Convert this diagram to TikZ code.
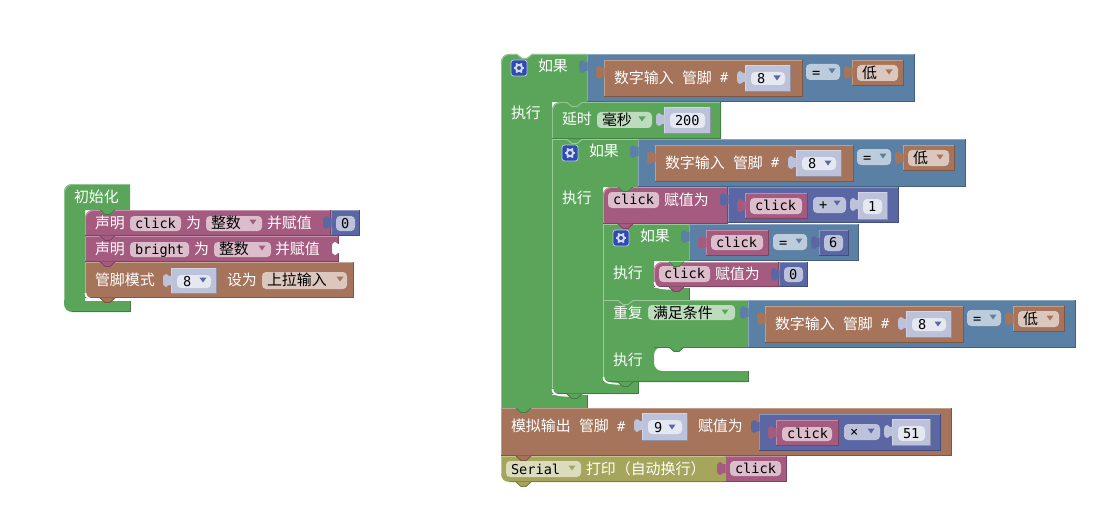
\documentclass[tikz,border=0pt]{standalone}
\usepackage{fontspec}
\setmainfont{Noto Sans CJK SC}
\newfontfamily\monof{DejaVu Sans Mono}[Scale=1]
\definecolor{gr}{HTML}{5BA55B}
\definecolor{lb}{HTML}{5B80A5}
\definecolor{bw}{HTML}{A5745B}
\definecolor{mg}{HTML}{A55B80}
\definecolor{ig}{HTML}{5B67A5}
\definecolor{ol}{HTML}{A5A55B}
\definecolor{fgr}{HTML}{BDDBBD}
\definecolor{flb}{HTML}{BDCCDB}
\definecolor{fbw}{HTML}{DBC7BD}
\definecolor{fmg}{HTML}{DBBDCC}
\definecolor{fig}{HTML}{BDC2DB}
\definecolor{fol}{HTML}{DBDBBD}
\definecolor{inn}{HTML}{E5E7F1}
\definecolor{gearblue}{HTML}{2C4BB6}
\newcount\tcnt
\tikzset{
  lbl/.style={anchor=base west,inner sep=0pt,outer sep=0pt,yshift=-3.9pt,font=\fontsize{11.2pt}{13pt}\selectfont},
  mono/.style={anchor=base west,inner sep=0pt,outer sep=0pt,yshift=-3.6pt,font=\monof\fontsize{10.2pt}{12pt}\selectfont,text=black},
  hi/.style={line width=.7pt},
  lo/.style={line width=.7pt}
}
% plain value block
\newcommand{\blk}[5]{%
  \fill[#1] (#2,#3) rectangle (#4,#5);
  \draw[hi,#1!70!white] (#2+.5,#5) -- (#2+.5,#3+.5) -- (#4,#3+.5);
  \draw[lo,#1!75!black] (#4-.5,#3) -- (#4-.5,#5-.5) -- (#2,#5-.5);}
% statement block, with notch in the highlight
\newcommand{\sblk}[5]{%
  \fill[#1] (#2,#3) rectangle (#4,#5);
  \draw[hi,#1!65!white] (#2+.5,#5) -- (#2+.5,#3+.5) -- (#2+15,#3+.5) -- (#2+20,#3+4.5) -- (#2+25,#3+4.5) -- (#2+30,#3+.5) -- (#4,#3+.5);
  \draw[lo,#1!75!black] (#4-.5,#3) -- (#4-.5,#5-.5) -- (#2,#5-.5);}
% statement block with rounded top-left corner
\newcommand{\rblk}[5]{%
  \fill[#1,rounded corners=0pt] (#2,#3+8) [rounded corners=6pt] -- (#2,#3) [sharp corners] -- (#4,#3) -- (#4,#5) -- (#2,#5) -- cycle;
  \draw[hi,#1!65!white] (#2+.5,#5) -- (#2+.5,#3+8) [rounded corners=6pt] -- (#2+.5,#3+.5) [sharp corners] -- (#2+15,#3+.5) -- (#2+20,#3+4.5) -- (#2+25,#3+4.5) -- (#2+30,#3+.5) -- (#4,#3+.5);
  \draw[lo,#1!75!black] (#4-.5,#3) -- (#4-.5,#5-.5) -- (#2,#5-.5);}
\newcommand{\vtab}[3]{%
  \fill[#3] (#1+.5,#2+3) -- (#1-2,#2+3) .. controls (#1-3,#2+3) and (#1-3,#2+1) .. (#1-5,#2+1) .. controls (#1-7.5,#2+1) and (#1-8,#2+3) .. (#1-8,#2+7.5) .. controls (#1-8,#2+12) and (#1-7.5,#2+14) .. (#1-5,#2+14) .. controls (#1-3,#2+14) and (#1-3,#2+12) .. (#1-2,#2+12) -- (#1+.5,#2+12) -- cycle;}
\newcommand{\stab}[3]{%
  \fill[#3] (#1+15,#2-.5) -- (#1+20,#2+4.5) -- (#1+25,#2+4.5) -- (#1+30,#2-.5) -- cycle;
  \draw[lo,#3!75!black] (#1+15,#2) -- (#1+20,#2+4.5) -- (#1+25,#2+4.5) -- (#1+30,#2);}
\newcommand{\fld}[5]{\fill[#1,rounded corners=3pt] (#2,#3) rectangle (#4,#5);}
\newcommand{\dd}[3]{\fill[#3] (#1-3.5,#2-2.5) -- (#1+3.5,#2-2.5) -- (#1,#2+2.5) -- cycle;}
\newcommand{\ctx}[3]{\global\advance\tcnt by 1 \node[lbl,text=white] (t\the\tcnt) at (#1,#2) {#3};}
\newcommand{\ktx}[3]{\global\advance\tcnt by 1 \node[lbl,text=black] (t\the\tcnt) at (#1,#2) {#3};}
\newcommand{\mtx}[3]{\global\advance\tcnt by 1 \node[mono] (t\the\tcnt) at (#1,#2) {#3};}
\newcommand{\mwt}[3]{\global\advance\tcnt by 1 \node[mono,text=white] (t\the\tcnt) at (#1,#2) {#3};}
\newcommand{\gearic}[2]{%
  \fill[fill=gearblue,draw=fig,line width=.6pt,rounded corners=2pt] (#1,#2) rectangle (#1+16,#2+16);
  \foreach \a in {0,60,...,300}{\draw[fig!60!white,line width=1.4pt] (#1+8,#2+8) -- ++(\a:5.4);}
  \fill[fig!60!white] (#1+8,#2+8) circle [radius=4.2];
  \fill[gearblue] (#1+8,#2+8) circle [radius=2];}
\newcommand{\wcurve}[2]{\draw[white,line width=1.3pt] (#1+.5,#2-6) .. controls (#1+.5,#2-1) and (#1+3,#2+.5) .. (#1+17,#2+.8);}
% boolean "digital input == low" row
\newcommand{\cmprow}{%
  \blk{lb}{587}{54}{915}{102}
  \vtab{587}{59}{lb}
  \blk{bw}{604}{60}{803}{97}
  \vtab{604}{65}{bw}
  \ctx{614}{78}{数字输入}
  \ctx{682}{78}{管脚}
  \mwt{720}{78}{\#}
  \blk{fig}{745}{65}{791}{92}
  \vtab{745}{70}{fig}
  \fld{inn}{751}{72}{785}{85}
  \mtx{757}{79}{8}
  \dd{777}{78}{ig}
  \fld{flb}{806}{64}{840}{80}
  \mtx{812}{73}{=}
  \dd{832}{71}{lb}
  \blk{bw}{852}{60}{904}{86}
  \vtab{852}{65}{bw}
  \fld{fbw}{857}{65}{898}{81}
  \ktx{862}{73}{低}
  \dd{889}{72}{bw}}
\begin{document}
\begin{tikzpicture}[x=0.75pt,y=-0.75pt]
\useasboundingbox (0,0) rectangle (1111,528);
\fill[white] (0,0) rectangle (1111,528);

%% ---------- setup block ----------
\fill[gr] (64,192) [rounded corners=6pt] -- (64,184) [sharp corners] -- (130,184) -- (130,210) -- (85,210) -- (85,301) -- (130,301) -- (130,312) [rounded corners=6pt] -- (64,312) [sharp corners] -- cycle;
\draw[lo,gr!75!black] (130,301) -- (130,311.5) -- (72,311.5);
\draw[hi,gr!65!white] (64.5,300) -- (64.5,192) [rounded corners=6pt] -- (64.5,184.5) [sharp corners] -- (130,184.5);
\ctx{74}{197}{初始化}

\rblk{mg}{85}{210}{331}{236}
\fld{fmg}{130}{216}{181}{231}
\ctx{95}{223}{声明}
\mtx{135}{224}{click}
\ctx{186}{223}{为}
\fld{fmg}{206}{216}{262}{231}
\ktx{211}{223}{整数}
\dd{253}{222}{mg}
\ctx{267}{223}{并赋值}
\blk{ig}{331}{210}{360}{236}
\vtab{331}{215}{ig}
\fld{fig}{336}{216}{355}{231}
\mtx{341}{224}{0}

\sblk{mg}{85}{236}{339}{262}
\fld{fmg}{130}{242}{189}{257}
\ctx{95}{249}{声明}
\mtx{135}{250}{bright}
\ctx{194}{249}{为}
\fld{fmg}{214}{242}{271}{257}
\ktx{219}{249}{整数}
\dd{262}{248}{mg}
\ctx{275}{249}{并赋值}
\vtab{340}{241}{white}

\sblk{bw}{85}{262}{353.5}{298}
\ctx{95}{280}{管脚模式}
\blk{fig}{171}{268}{217}{294}
\vtab{171}{273}{fig}
\fld{inn}{177}{275}{211}{288}
\mtx{183}{282}{8}
\dd{203}{280}{ig}
\ctx{227}{280}{设为}
\fld{fbw}{262}{272}{347}{289}
\ktx{267}{280}{上拉输入}
\dd{340}{279}{bw}
\wcurve{85}{299}

\stab{85}{210}{gr}
\stab{85}{236}{mg}
\stab{85}{262}{mg}
\stab{85}{298}{bw}

%% ---------- outer if ----------
\fill[gr] (501,62) [rounded corners=6pt] -- (501,54) [sharp corners] -- (517,54) -- (522,58) -- (527,58) -- (532,54) -- (587,54) -- (587,102) -- (552,102) -- (552,395) -- (587,395) -- (587,408) -- (501,408) -- cycle;
\draw[hi,gr!65!white] (501.5,408) -- (501.5,62) [rounded corners=6pt] -- (501.5,54.5) [sharp corners] -- (517,54.5) -- (522,58.5) -- (527,58.5) -- (532,54.5) -- (587,54.5);
\draw[lo,gr!75!black] (587,395) -- (587,407.5);
\gearic{511}{60}
\ctx{538}{66}{如果}
\ctx{511}{113}{执行}
\cmprow

%% delay
\rblk{gr}{552}{102}{721}{139}
\ctx{562}{119}{延时}
\fld{fgr}{597}{112}{652}{128}
\ktx{602}{120}{毫秒}
\dd{642}{119}{gr}
\blk{fig}{664}{107}{711}{134}
\vtab{664}{112}{fig}
\fld{inn}{670}{113}{705}{128}
\mtx{675}{121}{200}

%% second if
\fill[gr] (552,139) -- (638,139) -- (638,187) -- (603,187) -- (603,382) -- (638,382) -- (638,394) -- (552,394) -- cycle;
\draw[hi,gr!60!white] (552.5,388) -- (552.5,139.5) -- (567,139.5) -- (572,143.5) -- (577,143.5) -- (582,139.5) -- (638,139.5);
\draw[lo,gr!75!black] (638,382) -- (638,393.5) -- (552,393.5);
\gearic{562}{145}
\ctx{589}{151}{如果}
\ctx{562}{198}{执行}
\begin{scope}[shift={(51,85)}]\cmprow\end{scope}

%% click = click + 1
\rblk{mg}{603}{187}{728}{224}
\fld{fmg}{608}{192}{659}{208}
\mtx{613}{200}{click}
\ctx{664}{200}{赋值为}
\blk{ig}{728}{187}{899}{223}
\vtab{728}{192}{ig}
\blk{mg}{745}{193}{808}{219}
\vtab{745}{198}{mg}
\fld{fmg}{750}{198}{802}{214}
\mtx{755}{206}{click}
\fld{fig}{813}{197}{846}{213}
\mtx{819}{205}{+}
\dd{837}{203}{ig}
\blk{fig}{858}{192}{888}{220}
\vtab{858}{197}{fig}
\fld{inn}{863}{199}{882}{214}
\mtx{868}{207}{1}

%% third if
\fill[gr] (603,224) -- (689,224) -- (689,261) -- (654,261) -- (654,288) -- (689,288) -- (689,300) -- (603,300) -- cycle;
\draw[hi,gr!60!white] (603.5,300) -- (603.5,224.5) -- (689,224.5);
\draw[lo,gr!75!black] (689,288) -- (689,300);
\gearic{613}{230}
\ctx{640}{236}{如果}
\ctx{613}{273}{执行}
\blk{lb}{689}{224}{859}{261}
\vtab{689}{229}{lb}
\blk{mg}{706}{230}{769}{256}
\vtab{706}{235}{mg}
\fld{fmg}{711}{235}{763}{250}
\mtx{716}{243}{click}
\fld{flb}{773}{234}{807}{250}
\mtx{779}{243}{=}
\dd{799}{241}{lb}
\blk{ig}{819}{230}{849}{256}
\vtab{819}{235}{ig}
\fld{fig}{824}{235}{843}{251}
\mtx{829}{243}{6}

%% click = 0
\rblk{mg}{654}{262}{779}{287}
\fld{fmg}{659}{266}{710}{282}
\mtx{664}{274}{click}
\ctx{715}{274}{赋值为}
\blk{ig}{779}{262}{808}{287}
\vtab{779}{267}{ig}
\fld{fig}{784}{267}{803}{282}
\mtx{789}{275}{0}
\wcurve{654}{288}

%% repeat
\fill[gr] (603,300) -- (748,300) -- (748,347) -- (662,347) [rounded corners=6pt] -- (654,347) -- (654,371) [sharp corners] -- (748,371) -- (748,382) -- (603,382) -- cycle;
\draw[hi,gr!60!white] (603.5,377) -- (603.5,300.5) -- (618,300.5) -- (623,304.5) -- (628,304.5) -- (633,300.5) -- (748,300.5);
\draw[lo,gr!75!black] (748,347.5) -- (654,347.5);
\draw[lo,gr!75!black] (748,371) -- (748,381.5) -- (603,381.5);
\ctx{613}{313}{重复}
\fld{fgr}{648}{305}{735}{320}
\ktx{653}{313}{满足条件}
\dd{725}{312}{gr}
\ctx{613}{360}{执行}
\begin{scope}[shift={(161,246)}]\cmprow\end{scope}
\wcurve{603}{383}
\wcurve{552}{395}

%% analog write
\blk{bw}{501}{408}{952}{456}
\ctx{511}{426}{模拟输出}
\ctx{579}{426}{管脚}
\mwt{617}{427}{\#}
\blk{fig}{642}{413}{688}{441}
\vtab{642}{418}{fig}
\fld{inn}{648}{420}{682}{434}
\mtx{654}{428}{9}
\dd{672}{427}{ig}
\ctx{698}{426}{赋值为}
\blk{ig}{759}{414}{941}{451}
\vtab{759}{419}{ig}
\blk{mg}{776}{420}{839}{446}
\vtab{776}{425}{mg}
\fld{fmg}{782}{427}{832}{441}
\mtx{787}{434}{click}
\fld{fig}{844}{424}{880}{440}
\mtx{850}{432}{×}
\dd{871}{431}{ig}
\blk{fig}{892}{419}{931}{446}
\vtab{892}{424}{fig}
\fld{inn}{898}{426}{925}{441}
\mtx{903}{434}{51}

%% serial
\fill[ol] (501,456) -- (725,456) -- (725,482) [rounded corners=6pt] -- (501,482) [sharp corners] -- cycle;
\draw[hi,ol!65!white] (501.5,474) -- (501.5,456.5) -- (725,456.5);
\draw[lo,ol!75!black] (725,481.5) -- (510,481.5);
\fld{fol}{506}{461}{581}{477}
\mtx{511}{470}{Serial}
\dd{572}{468}{ol}
\ctx{586}{469}{打印（自动换行）}
\blk{mg}{725}{456}{787}{482}
\vtab{725}{461}{mg}
\fld{fmg}{730}{461}{781}{476}
\mtx{735}{469}{click}

%% statement tabs, drawn last
\stab{603}{187}{gr}
\stab{603}{224}{mg}
\stab{654}{262}{gr}
\stab{654}{287}{mg}
\stab{603}{382}{gr}
\stab{654}{347}{gr}
\stab{552}{394}{gr}
\stab{501}{408}{gr}
\stab{501}{456}{bw}
\stab{501}{482}{ol}
\end{tikzpicture}
\end{document}
